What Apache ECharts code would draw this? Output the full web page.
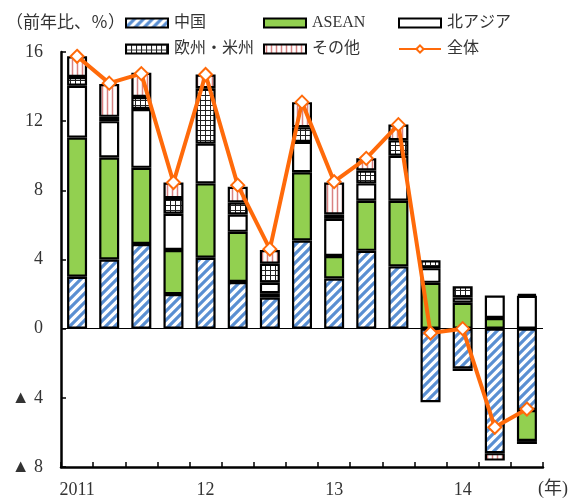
<!DOCTYPE html>
<html>
<head>
<meta charset="utf-8">
<script src="https://cdn.jsdelivr.net/npm/echarts@6/dist/echarts.min.js"></script>
<style>html,body{margin:0;padding:0;background:#fff;}#c{width:574px;height:500px;}</style>
</head>
<body>
<div id="c"></div>
<script>
const categories = ['2011Q1','2011Q2','2011Q3','2011Q4','2012Q1','2012Q2','2012Q3','2012Q4','2013Q1','2013Q2','2013Q3','2013Q4','2014Q1','2014Q2','2014Q3'];
const xTickLabels = ['2011','','','','12','','','','13','','','','14','',''];
const china = [3.0, 4.0, 4.9, 2.0, 4.1, 2.7, 1.8, 5.1, 2.9, 4.5, 3.6, -4.25, -2.3, -7.2, -4.7];
const asean = [8.05, 5.9, 4.4, 2.55, 4.3, 2.9, 0.25, 3.95, 1.3, 2.9, 3.8, 2.65, 1.5, 0.62, -1.8];
const northAsia = [3.0, 2.1, 3.4, 2.1, 2.3, 1.0, 0.6, 1.75, 2.15, 1.0, 2.6, 0.85, 0.3, 1.3, 1.9];
const euUs = [0.5, 0.25, 0.7, 0.9, 3.2, 0.7, 1.1, 0.85, 0.25, 0.75, 0.9, 0.45, 0.65, null, -0.17];
const others = [1.2, 1.9, 1.4, 0.9, 0.8, 0.9, 0.8, 1.45, 1.85, 0.7, 0.9, null, -0.15, -0.43, 0.1];
const total = [15.75, 14.2, 14.75, 8.45, 14.7, 8.3, 4.6, 13.1, 8.5, 9.85, 11.8, -0.25, 0.0, -5.7, -4.65];
const seriesNames = ['中国','ASEAN','北アジア','欧州・米州','その他','全体'];

function tile(size, draw){
  const c = document.createElement('canvas');
  c.width = size; c.height = size;
  const g = c.getContext('2d');
  g.fillStyle = '#fff'; g.fillRect(0,0,size,size);
  draw(g, size);
  return {image: c, repeat: 'repeat'};
}
const stripeFill = tile(9, (g,s)=>{
  g.strokeStyle = '#5a8fd2'; g.lineWidth = 3.2; g.beginPath();
  g.moveTo(-2, s+2); g.lineTo(s+2, -2);
  g.moveTo(-3, 3); g.lineTo(3, -3);
  g.moveTo(s-3, s+3); g.lineTo(s+3, s-3);
  g.stroke();
});
const gridFill = tile(5, (g,s)=>{
  g.strokeStyle = '#222'; g.lineWidth = 1; g.beginPath();
  g.moveTo(0.5,0); g.lineTo(0.5,s); g.moveTo(0,0.5); g.lineTo(s,0.5); g.stroke();
});
const redFill = tile(5, (g,s)=>{
  g.strokeStyle = '#d98282'; g.lineWidth = 1.5; g.beginPath();
  g.moveTo(2.5,0); g.lineTo(2.5,s); g.stroke();
});
const fills = [stripeFill, '#92d050', '#ffffff', gridFill, redFill];
const barData = [china, asean, northAsia, euUs, others];

const FONT = "'Liberation Serif', 'Noto Sans CJK JP', serif";
const chart = echarts.init(document.getElementById('c'));

const series = barData.map((d,i)=>({
  name: seriesNames[i], type: 'bar', stack: 'all', data: d, barWidth: 20,
  itemStyle: {color: fills[i], borderColor: '#000', borderWidth: 2.2},
  emphasis: {disabled: true}
}));
series[0].markLine = {
  silent: true, symbol: 'none', label: {show: false},
  lineStyle: {color: '#000', width: 1, type: 'solid'},
  data: [{yAxis: 0}]
};
series.push({
  name: '全体', type: 'line', data: total, z: 10,
  lineStyle: {color: '#ff6a0a', width: 4},
  itemStyle: {color: '#fff', borderColor: '#ff6a0a', borderWidth: 2},
  symbol: 'diamond', symbolSize: 13, showAllSymbol: true
});

const legendPos = [[125,15],[263,15],[398,15],[125,41],[263,41],[398,41]];
const legends = seriesNames.map((n,i)=>({
  left: legendPos[i][0], top: legendPos[i][1], padding: 0,
  itemWidth: 42, itemHeight: 9, itemGap: 0, selectedMode: false,
  icon: i < 5 ? 'rect' : undefined,
  textStyle: {fontFamily: FONT, fontSize: 16, color: '#333', padding: [0,0,0,1]},
  data: [i < 5 ? {name: n, itemStyle: {borderColor: '#000', borderWidth: 2}} : {name: n}]
}));

chart.setOption({
  animation: false,
  backgroundColor: '#fff',
  legend: legends,
  grid: {left: 61, right: 31, top: 52, bottom: 33},
  xAxis: {
    type: 'category', data: categories,
    axisLine: {onZero: false, lineStyle: {color: '#000', width: 2.5}},
    axisTick: {show: true, inside: true, length: 5, interval: 0, lineStyle: {color: '#000', width: 1.5}},
    axisLabel: {interval: 0, margin: 14, fontFamily: FONT, fontSize: 18, color: '#333',
      formatter: (v, i) => xTickLabels[i]}
  },
  yAxis: {
    type: 'value', min: -8, max: 16, interval: 4,
    splitLine: {show: false},
    axisLine: {show: true, lineStyle: {color: '#000', width: 2.5}},
    axisTick: {show: true, inside: true, length: 5, lineStyle: {color: '#000', width: 1.5}},
    axisLabel: {margin: 18, fontFamily: FONT, fontSize: 18, color: '#333',
      formatter: v => v < 0 ? '▲ ' + (-v) : String(v)}
  },
  graphic: [
    {type: 'text', left: 6, top: 13, style: {text: '（前年比、％）', font: "17px 'Noto Sans CJK JP', 'Liberation Serif', serif", fill: '#333'}},
    {type: 'text', left: 538, top: 480, style: {text: '(年)', font: "18px 'Liberation Serif', 'Noto Sans CJK JP', serif", fill: '#333'}}
  ],
  series: series
});
</script>
</body>
</html>
